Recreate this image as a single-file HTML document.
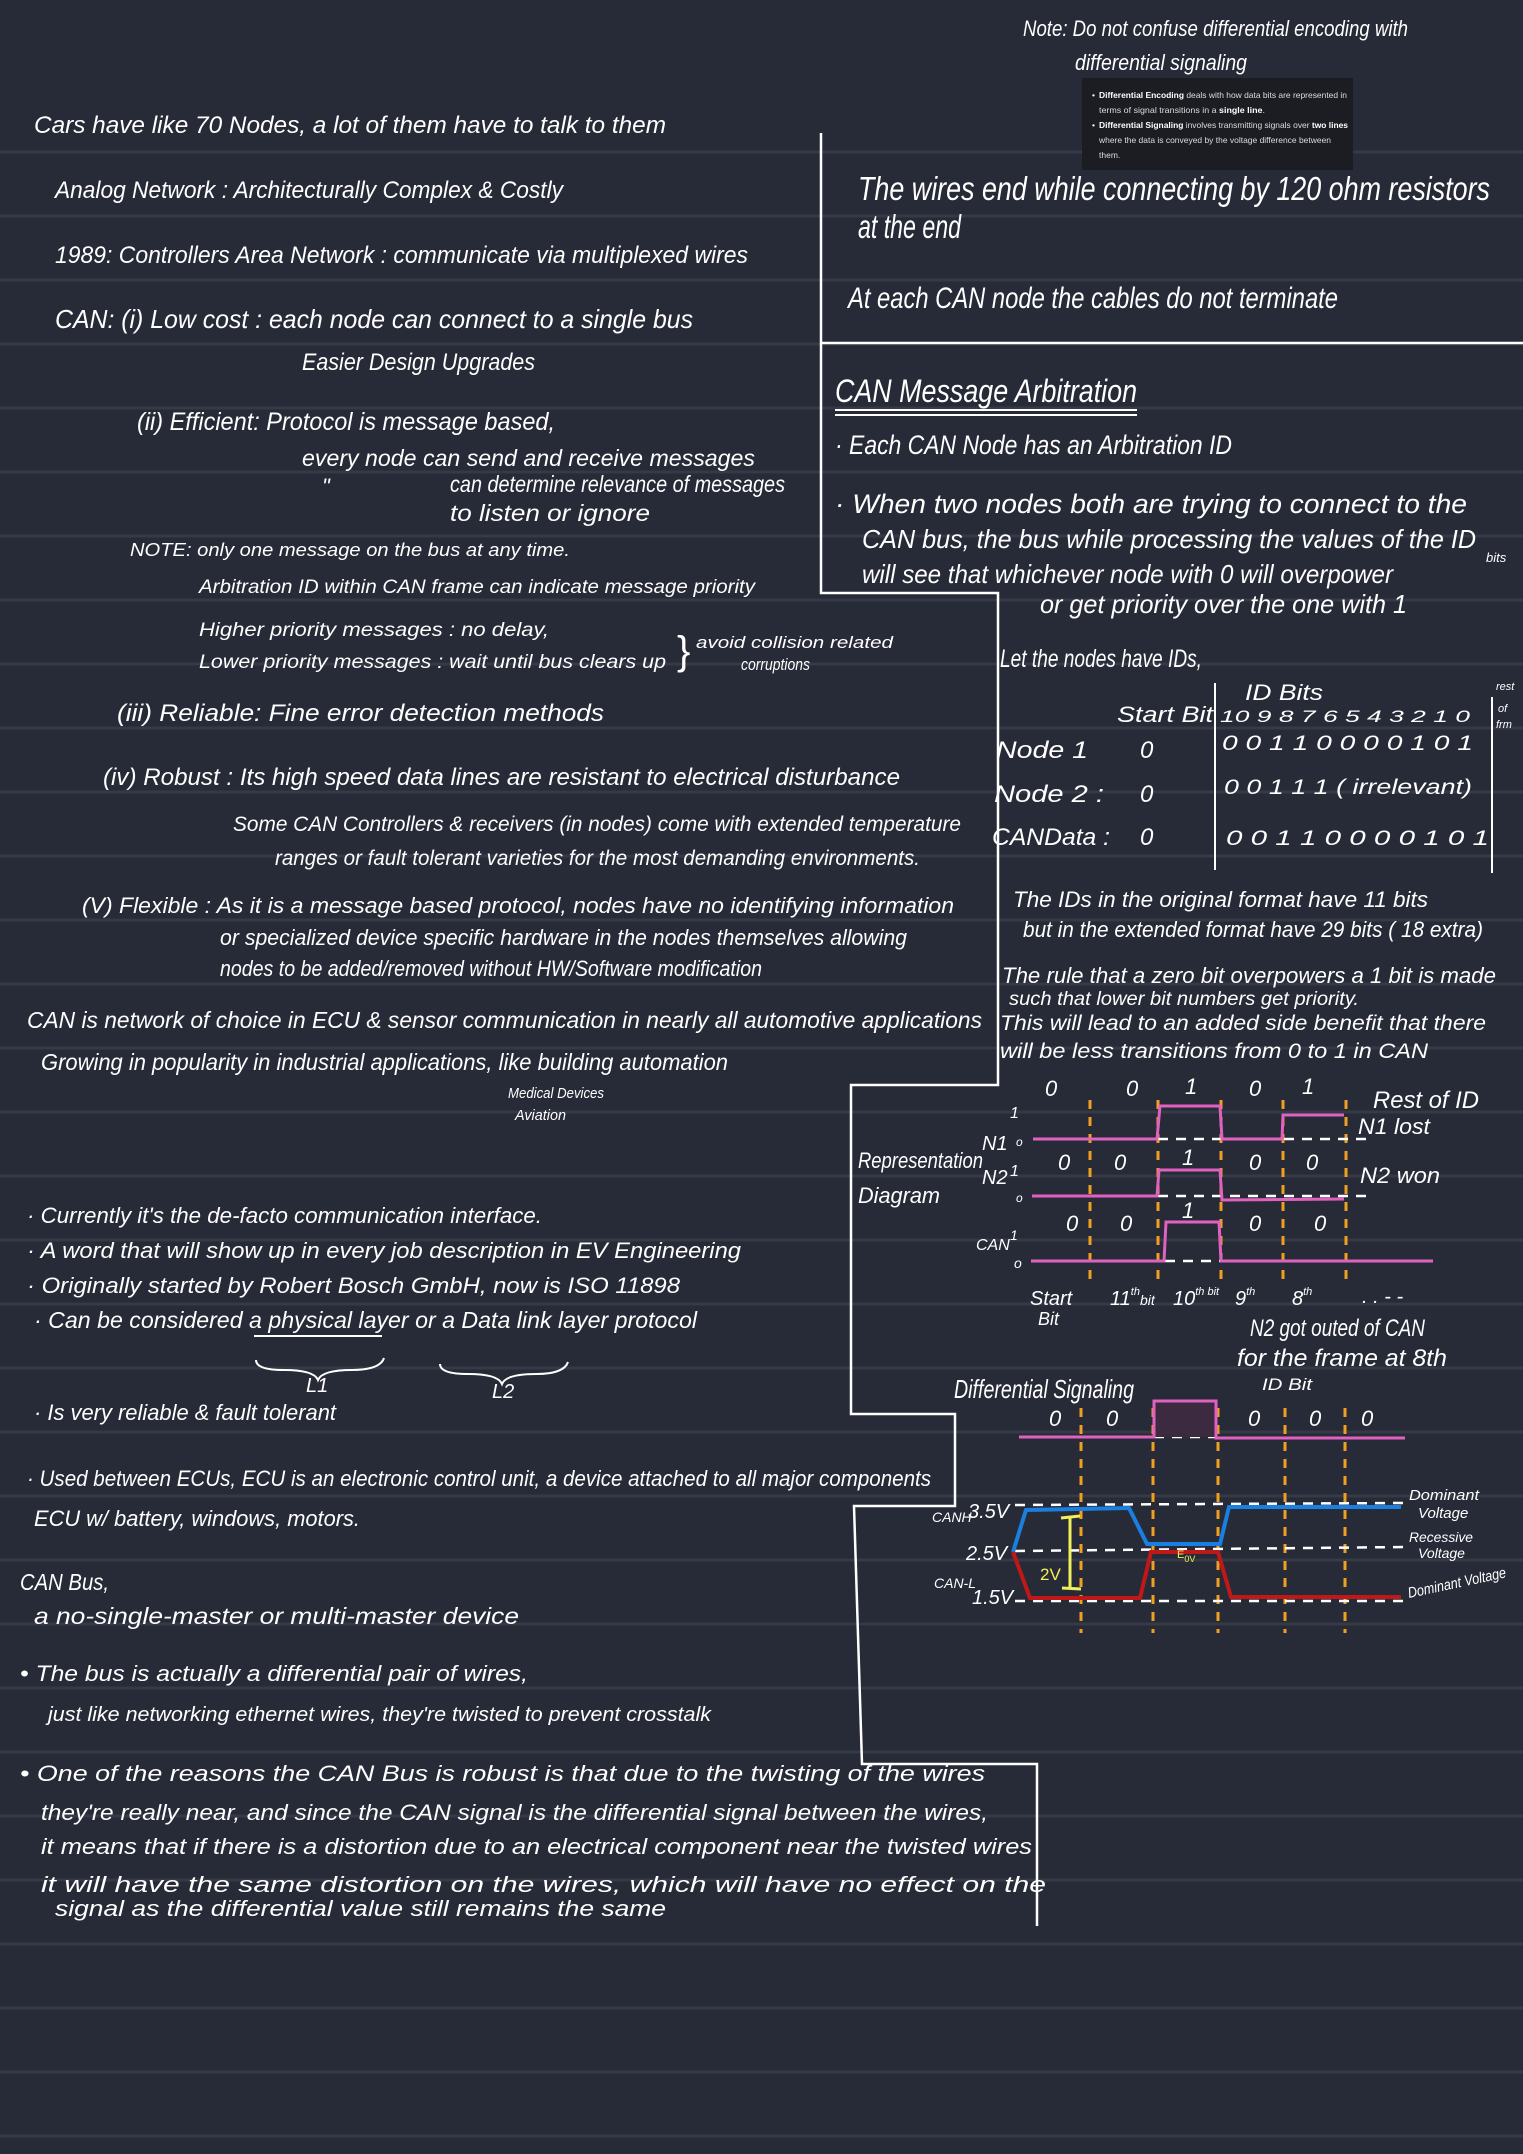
<!DOCTYPE html>
<html><head><meta charset="utf-8"><style>
html,body{margin:0;padding:0;background:#272a37;}
svg{display:block;}
text{font-family:"Liberation Sans",sans-serif;fill:#fff;}
</style></head><body>
<svg width="1523" height="2154" viewBox="0 0 1523 2154" xmlns="http://www.w3.org/2000/svg">
<rect width="1523" height="2154" fill="#272a37"/>
<g stroke="#363a47" stroke-width="3">
<line x1="0" y1="152" x2="1523" y2="152"/><line x1="0" y1="216" x2="1523" y2="216"/><line x1="0" y1="280" x2="1523" y2="280"/><line x1="0" y1="344" x2="1523" y2="344"/><line x1="0" y1="408" x2="1523" y2="408"/><line x1="0" y1="472" x2="1523" y2="472"/><line x1="0" y1="536" x2="1523" y2="536"/><line x1="0" y1="600" x2="1523" y2="600"/><line x1="0" y1="664" x2="1523" y2="664"/><line x1="0" y1="728" x2="1523" y2="728"/><line x1="0" y1="792" x2="1523" y2="792"/><line x1="0" y1="856" x2="1523" y2="856"/><line x1="0" y1="920" x2="1523" y2="920"/><line x1="0" y1="984" x2="1523" y2="984"/><line x1="0" y1="1048" x2="1523" y2="1048"/><line x1="0" y1="1112" x2="1523" y2="1112"/><line x1="0" y1="1176" x2="1523" y2="1176"/><line x1="0" y1="1240" x2="1523" y2="1240"/><line x1="0" y1="1304" x2="1523" y2="1304"/><line x1="0" y1="1368" x2="1523" y2="1368"/><line x1="0" y1="1432" x2="1523" y2="1432"/><line x1="0" y1="1496" x2="1523" y2="1496"/><line x1="0" y1="1560" x2="1523" y2="1560"/><line x1="0" y1="1624" x2="1523" y2="1624"/><line x1="0" y1="1688" x2="1523" y2="1688"/><line x1="0" y1="1752" x2="1523" y2="1752"/><line x1="0" y1="1816" x2="1523" y2="1816"/><line x1="0" y1="1880" x2="1523" y2="1880"/><line x1="0" y1="1944" x2="1523" y2="1944"/><line x1="0" y1="2008" x2="1523" y2="2008"/><line x1="0" y1="2072" x2="1523" y2="2072"/><line x1="0" y1="2136" x2="1523" y2="2136"/>
</g>

<!-- divider polyline -->
<g fill="none" stroke="#fff" stroke-width="2.5">
<polyline points="821,133 821,593 998,593 998,1085 851,1085 851,1414 955,1414 955,1506 854,1506 862,1764 1037,1764 1037,1926"/>
<line x1="821" y1="343" x2="1523" y2="343"/>
</g>

<!-- note box -->
<rect x="1082" y="78" width="271" height="92" fill="#1c1d22"/>
<g font-size="8.5" style="fill:#ddd">
<text x="1092" y="98">•</text><text x="1099" y="98" textLength="248" lengthAdjust="spacingAndGlyphs" style="fill:#ddd"><tspan font-weight="bold" style="fill:#fff">Differential Encoding</tspan> deals with how data bits are represented in</text>
<text x="1099" y="113" textLength="166" lengthAdjust="spacingAndGlyphs" style="fill:#ddd">terms of signal transitions in a <tspan font-weight="bold" style="fill:#fff">single line</tspan>.</text>
<text x="1092" y="128">•</text><text x="1099" y="128" textLength="249" lengthAdjust="spacingAndGlyphs" style="fill:#ddd"><tspan font-weight="bold" style="fill:#fff">Differential Signaling</tspan> involves transmitting signals over <tspan font-weight="bold" style="fill:#fff">two lines</tspan></text>
<text x="1099" y="143" textLength="232" lengthAdjust="spacingAndGlyphs" style="fill:#ddd">where the data is conveyed by the voltage difference between</text>
<text x="1099" y="158" style="fill:#ddd">them.</text>
</g>

<g font-style="italic">
<text x="1023" y="36" font-size="22" textLength="385" lengthAdjust="spacingAndGlyphs">Note: Do not confuse differential encoding with</text>
<text x="1075" y="70" font-size="22" textLength="172" lengthAdjust="spacingAndGlyphs">differential signaling</text>

<!-- Left column -->
<text x="34" y="133" font-size="24" textLength="632" lengthAdjust="spacingAndGlyphs">Cars have like 70 Nodes,  a lot of them have to talk to them</text>
<text x="55" y="198" font-size="24" textLength="508" lengthAdjust="spacingAndGlyphs">Analog Network : Architecturally Complex &amp; Costly</text>
<text x="55" y="263" font-size="24" textLength="693" lengthAdjust="spacingAndGlyphs">1989: Controllers Area Network : communicate via multiplexed wires</text>
<text x="55" y="328" font-size="26" textLength="638" lengthAdjust="spacingAndGlyphs">CAN: (i) Low cost :  each node can connect to a single bus</text>
<text x="302" y="370" font-size="24" textLength="233" lengthAdjust="spacingAndGlyphs">Easier Design Upgrades</text>
<text x="137" y="430" font-size="25" textLength="418" lengthAdjust="spacingAndGlyphs">(ii) Efficient: Protocol is message based,</text>
<text x="302" y="466" font-size="23" textLength="453" lengthAdjust="spacingAndGlyphs">every node can send and receive messages</text>
<text x="322" y="494" font-size="22">"</text>
<text x="450" y="492" font-size="23" textLength="335" lengthAdjust="spacingAndGlyphs">can determine relevance of messages</text>
<text x="450" y="521" font-size="23" textLength="200" lengthAdjust="spacingAndGlyphs">to listen or ignore</text>
<text x="130" y="556" font-size="18" textLength="440" lengthAdjust="spacingAndGlyphs">NOTE:  only one message on the bus at any time.</text>
<text x="199" y="593" font-size="19" textLength="556" lengthAdjust="spacingAndGlyphs">Arbitration ID within CAN frame can indicate message priority</text>
<text x="199" y="636" font-size="19" textLength="350" lengthAdjust="spacingAndGlyphs">Higher priority messages : no delay,</text>
<text x="199" y="668" font-size="19" textLength="467" lengthAdjust="spacingAndGlyphs">Lower priority messages : wait until bus clears up</text>
<text x="677" y="664" font-size="40" font-style="normal">}</text>
<text x="696" y="648" font-size="17" textLength="197" lengthAdjust="spacingAndGlyphs">avoid collision related</text>
<text x="741" y="670" font-size="17" textLength="69" lengthAdjust="spacingAndGlyphs">corruptions</text>
<text x="117" y="721" font-size="24" textLength="487" lengthAdjust="spacingAndGlyphs">(iii) Reliable:  Fine error detection methods</text>
<text x="103" y="785" font-size="24" textLength="797" lengthAdjust="spacingAndGlyphs">(iv) Robust :  Its high speed data lines  are resistant to electrical disturbance</text>
<text x="233" y="831" font-size="21" textLength="728" lengthAdjust="spacingAndGlyphs">Some CAN Controllers &amp; receivers (in nodes) come with extended temperature</text>
<text x="275" y="865" font-size="21" textLength="645" lengthAdjust="spacingAndGlyphs">ranges or fault tolerant varieties for the most demanding environments.</text>
<text x="82" y="913" font-size="22" textLength="872" lengthAdjust="spacingAndGlyphs">(V) Flexible :  As it is a message based protocol, nodes have no identifying information</text>
<text x="220" y="945" font-size="22" textLength="687" lengthAdjust="spacingAndGlyphs">or specialized device specific hardware in the nodes themselves allowing</text>
<text x="220" y="976" font-size="22" textLength="542" lengthAdjust="spacingAndGlyphs">nodes to be added/removed without HW/Software modification</text>
<text x="27" y="1028" font-size="23" textLength="955" lengthAdjust="spacingAndGlyphs">CAN is network of choice in ECU &amp; sensor communication in nearly all automotive applications</text>
<text x="41" y="1070" font-size="23" textLength="687" lengthAdjust="spacingAndGlyphs">Growing in popularity in industrial applications, like building automation</text>
<text x="508" y="1098" font-size="15" textLength="96" lengthAdjust="spacingAndGlyphs">Medical Devices</text>
<text x="515" y="1120" font-size="15" textLength="51" lengthAdjust="spacingAndGlyphs">Aviation</text>

<text x="27" y="1223" font-size="22" textLength="515" lengthAdjust="spacingAndGlyphs">· Currently it's the de-facto communication interface.</text>
<text x="27" y="1258" font-size="22" textLength="714" lengthAdjust="spacingAndGlyphs">· A word that will show up in every job description in EV Engineering</text>
<text x="27" y="1293" font-size="22" textLength="653" lengthAdjust="spacingAndGlyphs">· Originally started by Robert Bosch GmbH, now is ISO 11898</text>
<text x="34" y="1328" font-size="23" textLength="663" lengthAdjust="spacingAndGlyphs">· Can be considered a physical layer or a Data link layer protocol</text>
<text x="306" y="1392" font-size="20">L1</text>
<text x="492" y="1398" font-size="20">L2</text>
<text x="34" y="1420" font-size="22" textLength="302" lengthAdjust="spacingAndGlyphs">· Is very reliable &amp; fault tolerant</text>
<text x="27" y="1486" font-size="22" textLength="904" lengthAdjust="spacingAndGlyphs">· Used between ECUs, ECU is an electronic control unit, a device attached to all major components</text>
<text x="34" y="1526" font-size="22" textLength="326" lengthAdjust="spacingAndGlyphs">ECU w/ battery, windows, motors.</text>
<text x="20" y="1590" font-size="23" textLength="89" lengthAdjust="spacingAndGlyphs">CAN Bus,</text>
<text x="34" y="1624" font-size="23" textLength="485" lengthAdjust="spacingAndGlyphs">a no-single-master or multi-master device</text>
<text x="20" y="1681" font-size="22" textLength="508" lengthAdjust="spacingAndGlyphs">• The bus is actually a differential pair of wires,</text>
<text x="48" y="1721" font-size="20" textLength="663" lengthAdjust="spacingAndGlyphs">just like networking ethernet wires, they're twisted to prevent crosstalk</text>
<text x="20" y="1781" font-size="22" textLength="965" lengthAdjust="spacingAndGlyphs">• One of the reasons the CAN Bus is robust is that due to the twisting of the wires</text>
<text x="41" y="1820" font-size="22" textLength="947" lengthAdjust="spacingAndGlyphs">they're really near, and since the CAN signal is the differential signal between the wires,</text>
<text x="41" y="1854" font-size="22" textLength="991" lengthAdjust="spacingAndGlyphs">it means that if there is a distortion due to an electrical component near the twisted wires</text>
<text x="41" y="1892" font-size="22" textLength="1005" lengthAdjust="spacingAndGlyphs">it will have the same distortion on the wires, which will have no effect on the</text>
<text x="55" y="1916" font-size="22" textLength="611" lengthAdjust="spacingAndGlyphs">signal as the differential value still remains the same</text>

<!-- Right column -->
<text x="858" y="200" font-size="33" textLength="632" lengthAdjust="spacingAndGlyphs">The wires end while connecting by 120 ohm resistors</text>
<text x="858" y="238" font-size="33" textLength="103" lengthAdjust="spacingAndGlyphs">at the end</text>
<text x="848" y="308" font-size="30" textLength="490" lengthAdjust="spacingAndGlyphs">At each CAN node the cables do not terminate</text>
<text x="835" y="402" font-size="32" textLength="302" lengthAdjust="spacingAndGlyphs">CAN Message Arbitration</text>
<text x="835" y="454" font-size="27" textLength="397" lengthAdjust="spacingAndGlyphs">· Each CAN Node has an Arbitration ID</text>
<text x="835" y="513" font-size="27" textLength="632" lengthAdjust="spacingAndGlyphs">· When two nodes both are trying to connect to the</text>
<text x="862" y="548" font-size="26" textLength="614" lengthAdjust="spacingAndGlyphs">CAN bus, the bus while processing the values of the ID</text>
<text x="1486" y="562" font-size="13">bits</text>
<text x="862" y="583" font-size="26" textLength="531" lengthAdjust="spacingAndGlyphs">will see that whichever node with 0 will overpower</text>
<text x="1040" y="613" font-size="26" textLength="367" lengthAdjust="spacingAndGlyphs">or get priority over the one with 1</text>
<text x="1000" y="667" font-size="25" textLength="202" lengthAdjust="spacingAndGlyphs">Let the nodes have IDs,</text>

<text x="1245" y="700" font-size="22" textLength="78" lengthAdjust="spacingAndGlyphs">ID Bits</text>
<text x="1117" y="722" font-size="22" textLength="96" lengthAdjust="spacingAndGlyphs">Start Bit</text>
<text x="1220" y="722" font-size="17" textLength="250" lengthAdjust="spacingAndGlyphs">10  9  8  7  6  5  4  3  2  1  0</text>
<text x="1496" y="690" font-size="11">rest</text>
<text x="1498" y="712" font-size="11">of</text>
<text x="1496" y="728" font-size="11">frm</text>
<text x="996" y="758" font-size="24" textLength="92" lengthAdjust="spacingAndGlyphs">Node 1</text>
<text x="1140" y="758" font-size="24">0</text>
<text x="1222" y="750" font-size="21" textLength="251" lengthAdjust="spacingAndGlyphs">0 0 1 1 0 0 0 0 1 0 1</text>
<text x="994" y="802" font-size="24" textLength="110" lengthAdjust="spacingAndGlyphs">Node 2 :</text>
<text x="1140" y="802" font-size="24">0</text>
<text x="1224" y="794" font-size="21" textLength="248" lengthAdjust="spacingAndGlyphs">0 0 1 1 1 ( irrelevant)</text>
<text x="992" y="845" font-size="24" textLength="118" lengthAdjust="spacingAndGlyphs">CANData :</text>
<text x="1140" y="845" font-size="24">0</text>
<text x="1226" y="845" font-size="21" textLength="263" lengthAdjust="spacingAndGlyphs">0  0 1 1 0  0  0  0  1  0 1</text>

<text x="1013" y="907" font-size="22" textLength="415" lengthAdjust="spacingAndGlyphs">The IDs in the original format have 11 bits</text>
<text x="1023" y="937" font-size="22" textLength="460" lengthAdjust="spacingAndGlyphs">but in the extended format have 29 bits ( 18 extra)</text>
<text x="1002" y="983" font-size="22" textLength="494" lengthAdjust="spacingAndGlyphs">The rule that a zero bit overpowers a 1 bit is made</text>
<text x="1009" y="1005" font-size="19" textLength="350" lengthAdjust="spacingAndGlyphs">such that lower bit numbers get priority.</text>
<text x="1000" y="1030" font-size="21" textLength="486" lengthAdjust="spacingAndGlyphs">This will lead to an added side benefit that there</text>
<text x="1000" y="1058" font-size="21" textLength="428" lengthAdjust="spacingAndGlyphs">will be less transitions from 0 to 1 in CAN</text>

<!-- chart text -->
<g font-size="22">
<text x="1045" y="1096">0</text><text x="1126" y="1096">0</text><text x="1185" y="1094">1</text><text x="1249" y="1096">0</text><text x="1302" y="1094">1</text>
<text x="1058" y="1170">0</text><text x="1114" y="1170">0</text><text x="1182" y="1165">1</text><text x="1249" y="1170">0</text><text x="1306" y="1170">0</text>
<text x="1066" y="1231">0</text><text x="1120" y="1231">0</text><text x="1182" y="1218">1</text><text x="1249" y="1231">0</text><text x="1314" y="1231">0</text>
<text x="982" y="1150" font-size="20">N1</text><text x="1010" y="1118" font-size="16">1</text><text x="1016" y="1146" font-size="12">o</text>
<text x="982" y="1184" font-size="20">N2</text><text x="1010" y="1176" font-size="16">1</text><text x="1016" y="1202" font-size="12">o</text>
<text x="976" y="1250" font-size="16">CAN</text><text x="1010" y="1240" font-size="14">1</text><text x="1014" y="1268" font-size="14">o</text>
<text x="1373" y="1108" font-size="24" textLength="106" lengthAdjust="spacingAndGlyphs">Rest of ID</text>
<text x="1358" y="1134" font-size="22" textLength="72" lengthAdjust="spacingAndGlyphs">N1 lost</text>
<text x="1360" y="1183" font-size="22" textLength="80" lengthAdjust="spacingAndGlyphs">N2 won</text>
<text x="858" y="1168" font-size="22" textLength="125" lengthAdjust="spacingAndGlyphs">Representation</text>
<text x="858" y="1203" font-size="22" textLength="82" lengthAdjust="spacingAndGlyphs">Diagram</text>
<text x="1030" y="1305" font-size="20">Start</text><text x="1038" y="1325" font-size="18">Bit</text>
<text x="1110" y="1305" font-size="20">11<tspan font-size="11" dy="-10">th</tspan><tspan font-size="14" dy="10">bit</tspan></text>
<text x="1173" y="1305" font-size="20">10<tspan font-size="11" dy="-10">th bit</tspan></text>
<text x="1235" y="1305" font-size="20">9<tspan font-size="11" dy="-10">th</tspan></text>
<text x="1292" y="1305" font-size="20">8<tspan font-size="11" dy="-10">th</tspan></text>
<text x="1362" y="1303" font-size="20">.  .   -  -</text>
<text x="1250" y="1336" font-size="24" textLength="175" lengthAdjust="spacingAndGlyphs">N2 got outed of CAN</text>
<text x="1237" y="1366" font-size="24" textLength="210" lengthAdjust="spacingAndGlyphs">for the frame at 8th</text>
<text x="1262" y="1390" font-size="17" textLength="50" lengthAdjust="spacingAndGlyphs">ID Bit</text>
<text x="954" y="1398" font-size="26" textLength="180" lengthAdjust="spacingAndGlyphs">Differential Signaling</text>
<text x="1049" y="1426">0</text><text x="1106" y="1426">0</text><text x="1174" y="1426">1</text><text x="1248" y="1426">0</text><text x="1309" y="1426">0</text><text x="1361" y="1426">0</text>
<text x="932" y="1522" font-size="14">CANH</text><text x="968" y="1518" font-size="20">3.5V</text>
<text x="966" y="1560" font-size="20">2.5V</text>
<text x="934" y="1588" font-size="14">CAN-L</text><text x="972" y="1604" font-size="20">1.5V</text>
<text x="1409" y="1500" font-size="15" textLength="70" lengthAdjust="spacingAndGlyphs">Dominant</text>
<text x="1418" y="1518" font-size="15">Voltage</text>
<text x="1409" y="1542" font-size="14" textLength="64" lengthAdjust="spacingAndGlyphs">Recessive</text>
<text x="1418" y="1558" font-size="14">Voltage</text>
<text x="1409" y="1598" font-size="15" textLength="100" lengthAdjust="spacingAndGlyphs" transform="rotate(-12 1409 1598)">Dominant Voltage</text>
</g>
</g>

<!-- underlines / braces -->
<g fill="none" stroke="#fff" stroke-width="2">
<line x1="835" y1="410" x2="1137" y2="410"/><line x1="835" y1="415" x2="1137" y2="415"/>
<line x1="254" y1="1336" x2="382" y2="1336"/>
<path d="M256,1360 q0,10 28,10 q30,0 34,10 q4,-10 34,-10 q28,0 32,-12"/>
<path d="M440,1364 q0,10 28,10 q30,0 34,10 q4,-10 34,-10 q28,0 32,-12"/>
<line x1="1215" y1="683" x2="1215" y2="870"/>
<line x1="1492" y1="697" x2="1492" y2="873"/>
</g>

<!-- top waveform chart -->
<g fill="none" stroke="#f0a020" stroke-width="3" stroke-dasharray="9,8">
<line x1="1090" y1="1100" x2="1090" y2="1287"/><line x1="1158" y1="1100" x2="1158" y2="1287"/><line x1="1221" y1="1100" x2="1221" y2="1287"/><line x1="1283" y1="1100" x2="1283" y2="1287"/><line x1="1346" y1="1100" x2="1346" y2="1287"/>
<line x1="1081" y1="1408" x2="1081" y2="1633"/><line x1="1153" y1="1408" x2="1153" y2="1633"/><line x1="1218" y1="1408" x2="1218" y2="1633"/><line x1="1285" y1="1408" x2="1285" y2="1633"/><line x1="1345" y1="1408" x2="1345" y2="1633"/>
</g>
<g fill="none" stroke="#fff" stroke-width="2.5" stroke-dasharray="10,8">
<line x1="1158" y1="1139" x2="1368" y2="1139"/>
<line x1="1158" y1="1196" x2="1368" y2="1196"/>
<line x1="1165" y1="1261" x2="1221" y2="1261"/>
<line x1="1154" y1="1437" x2="1216" y2="1437"/>
<line x1="1015" y1="1505" x2="1405" y2="1503"/>
<line x1="1015" y1="1551" x2="1405" y2="1547"/>
<line x1="1015" y1="1601" x2="1409" y2="1601"/>
</g>
<rect x="1154" y="1401" width="62" height="36" fill="#3b2a40"/>
<g fill="none" stroke="#e062c0" stroke-width="3">
<polyline points="1033,1139 1157,1139 1160,1106 1220,1106 1222,1139 1282,1139 1283,1115 1344,1115"/>
<polyline points="1032,1196 1157,1196 1159,1170 1220,1170 1222,1200 1344,1199"/>
<polyline points="1031,1261 1164,1261 1166,1222 1219,1222 1221,1261 1433,1261"/>
<polyline points="1019,1437 1154,1437 1154,1401 1216,1401 1216,1438 1405,1438"/>
</g>
<polyline fill="none" stroke="#1a7fe0" stroke-width="4" points="1013,1552 1026,1510 1129,1508 1147,1544 1220,1544 1229,1507 1401,1507"/>
<polyline fill="none" stroke="#c01818" stroke-width="4" points="1013,1552 1030,1598 1140,1598 1151,1552 1218,1552 1231,1597 1401,1597"/>
<g stroke="#f2f05a" stroke-width="3" fill="none">
<line x1="1070" y1="1518" x2="1070" y2="1588"/><line x1="1061" y1="1518" x2="1080" y2="1516"/><line x1="1062" y1="1588" x2="1081" y2="1589"/>
</g>
<text x="1040" y="1580" font-size="17" style="fill:#f2f05a">2V</text>
<text x="1177" y="1558" font-size="11" style="fill:#f2f05a">E<tspan font-size="9" dy="4">0V</tspan></text>
</svg>
</body></html>
